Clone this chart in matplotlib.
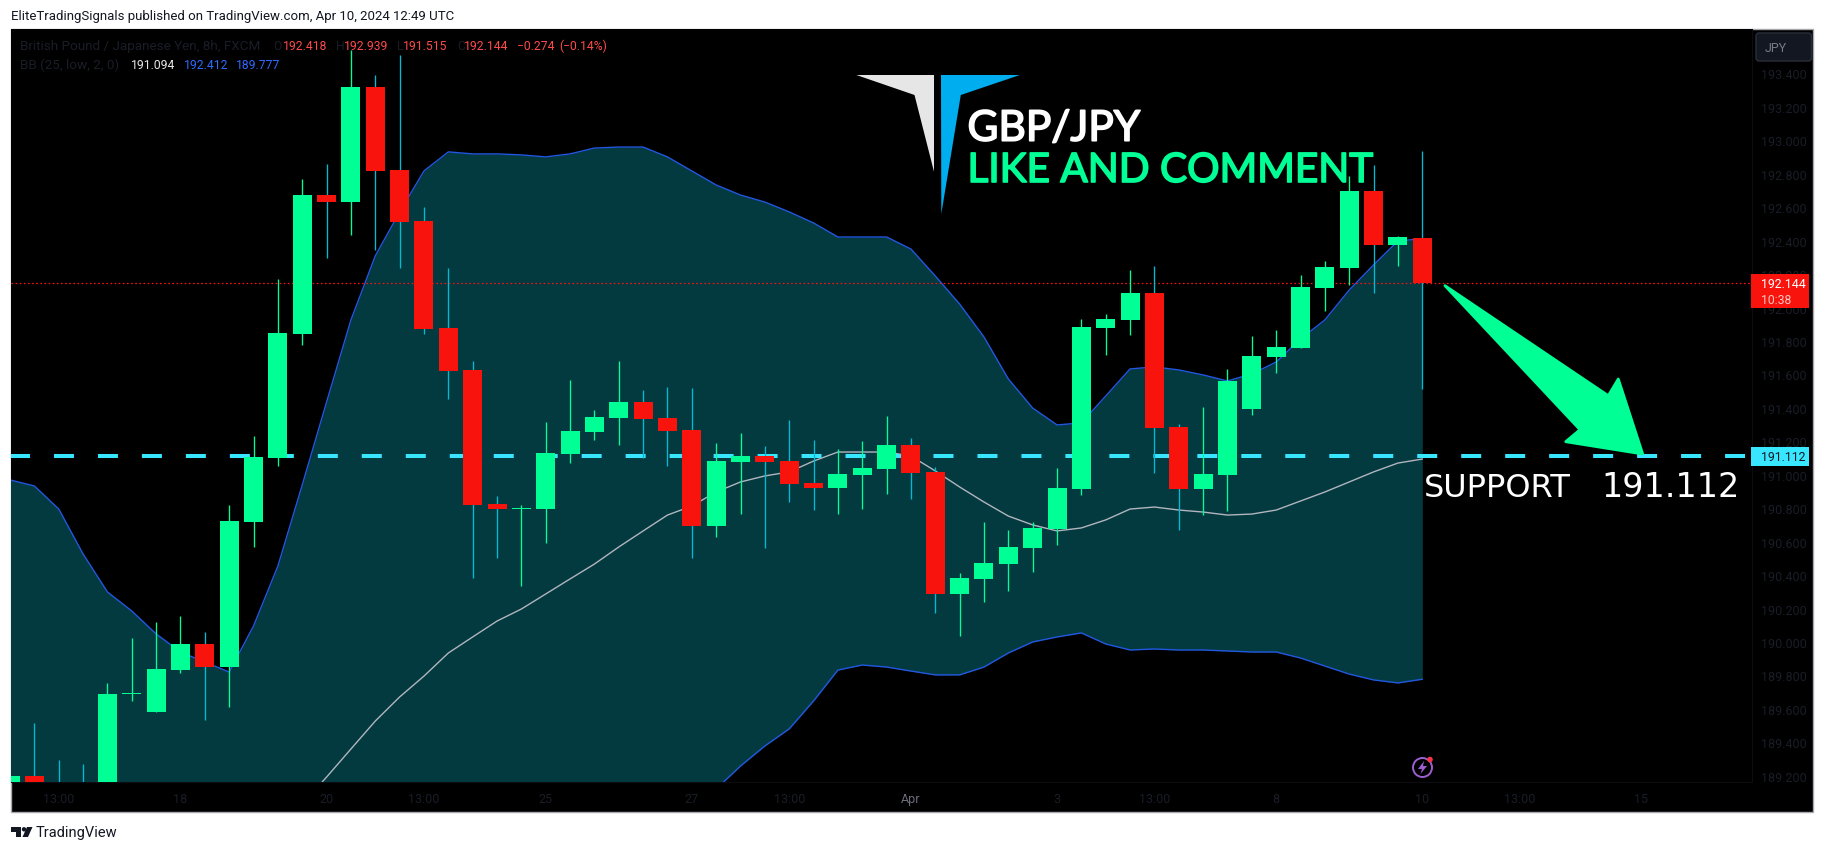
import numpy as np
import matplotlib
matplotlib.use("Agg")
import matplotlib.pyplot as plt
import matplotlib.patheffects as pe
from matplotlib.patches import Rectangle, FancyBboxPatch, Circle, Polygon

# 8h GBP/JPY candles
opens = [189.061, 189.198, 189.100, 189.100, 189.050, 189.686, 189.581, 189.832, 189.988, 189.852,
         190.718, 191.100, 191.842, 192.673, 192.631, 193.319, 192.823, 192.518, 191.878, 191.627,
         190.825, 190.797, 190.795, 191.124, 191.256, 191.340, 191.435, 191.340, 191.268, 190.694,
         191.076, 191.112, 191.082, 190.951, 190.921, 190.999, 191.035, 191.178, 191.017, 190.287,
         190.377, 190.466, 190.562, 190.676, 190.915, 191.878, 191.926, 192.087, 191.286, 190.915,
         190.999, 191.393, 191.704, 191.758, 192.117, 192.237, 192.697, 192.374, 192.418]
highs = [189.198, 189.515, 189.294, 189.270, 189.755, 190.024, 190.119, 190.155, 190.060, 190.819,
         191.232, 192.171, 192.769, 192.859, 193.541, 193.391, 193.511, 192.602, 192.237, 191.681,
         190.873, 190.819, 191.316, 191.567, 191.387, 191.681, 191.507, 191.525, 191.519, 191.190,
         191.250, 191.172, 191.328, 191.208, 191.154, 191.202, 191.352, 191.220, 191.047, 190.413,
         190.718, 190.670, 190.718, 191.041, 191.932, 191.962, 192.225, 192.249, 191.304, 191.405,
         191.633, 191.830, 191.866, 192.195, 192.279, 192.787, 192.853, 192.428, 192.939]
lows = [189.061, 189.061, 189.020, 189.000, 189.020, 189.647, 189.581, 189.814, 189.535, 189.613,
        190.568, 191.054, 191.778, 192.297, 192.434, 192.344, 192.237, 191.842, 191.453, 190.383,
        190.502, 190.335, 190.592, 191.070, 191.208, 191.178, 191.100, 191.053, 190.502, 190.628,
        190.765, 190.562, 190.837, 190.789, 190.765, 190.795, 190.885, 190.855, 190.173, 190.036,
        190.239, 190.305, 190.419, 190.580, 190.879, 191.716, 191.836, 191.011, 190.670, 190.759,
        190.783, 191.358, 191.609, 191.758, 191.980, 192.135, 192.087, 192.249, 191.515]
closes = [189.198, 189.061, 189.050, 189.050, 189.689, 189.693, 189.838, 189.988, 189.852, 190.724,
          191.106, 191.848, 192.673, 192.631, 193.319, 192.817, 192.512, 191.872, 191.621, 190.819,
          190.795, 190.801, 191.130, 191.262, 191.346, 191.435, 191.334, 191.262, 190.694, 191.082,
          191.112, 191.076, 190.945, 190.921, 191.005, 191.041, 191.178, 191.011, 190.287, 190.383,
          190.472, 190.568, 190.682, 190.921, 191.884, 191.932, 192.087, 191.280, 190.915, 191.005,
          191.563, 191.710, 191.764, 192.123, 192.243, 192.697, 192.374, 192.422, 192.144]

# Bollinger bands, the lower/basis ones run off the pane on the left
bb_upper = [190.969, 190.933, 190.795, 190.526, 190.299, 190.185, 190.048, 189.940, 189.880, 189.820,
            190.096, 190.454, 190.939, 191.435, 191.926, 192.309, 192.572, 192.817, 192.931, 192.919,
            192.919, 192.913, 192.901, 192.919, 192.954, 192.960, 192.960, 192.901, 192.817, 192.733,
            192.673, 192.631, 192.572, 192.506, 192.422, 192.422, 192.422, 192.350, 192.189, 192.021,
            191.824, 191.573, 191.399, 191.298, 191.310, 191.471, 191.633, 191.645, 191.627, 191.597,
            191.561, 191.603, 191.674, 191.812, 191.926, 192.105, 192.255, 192.398, 192.412]
bb_basis = [np.nan] * 12 + [
            189.031, 189.192, 189.360, 189.527, 189.671, 189.796, 189.934, 190.030,
            190.125, 190.197, 190.287, 190.377, 190.466, 190.568, 190.664, 190.759, 190.813, 190.897,
            190.957, 190.993, 191.017, 191.082, 191.136, 191.136, 191.136, 191.112, 191.023, 190.927,
            190.837, 190.753, 190.700, 190.664, 190.682, 190.730, 190.795, 190.807, 190.789, 190.777,
            190.759, 190.765, 190.789, 190.843, 190.897, 190.957, 191.017, 191.070, 191.094]
bb_lower = [188.900] * 28 + [
            188.971, 189.121,
            189.258, 189.378, 189.480, 189.647, 189.832, 189.862, 189.850, 189.826, 189.803, 189.803,
            189.850, 189.934, 190.000, 190.030, 190.054, 189.988, 189.952, 189.958, 189.952, 189.952,
            189.946, 189.940, 189.940, 189.904, 189.856, 189.808, 189.773, 189.755, 189.777]

price_ticks = [189.2, 189.4, 189.6, 189.8, 190.0, 190.2, 190.4, 190.6, 190.8, 191.0, 191.2,
               191.4, 191.6, 191.8, 192.0, 192.2, 192.4, 192.6, 192.8, 193.0, 193.2, 193.4]
time_ticks = [2, 7, 13, 17, 22, 28, 32, 37, 43, 47, 52, 58, 62, 67]
time_labels = ["13:00", "18", "20", "13:00", "25", "27", "13:00", "Apr", "3", "13:00", "8", "10", "13:00", "15"]
last_price = 192.144
support = 191.112

GREEN = "#00FF95"
RED = "#F8130D"
WICK_DOWN = "#00BCD4"
BAND = "#023A40"
BAND_LINE = "#2257E0"
FAINT = "#1A1D27"
CYAN = "#38E6FF"

W, H = 1825, 853
fig = plt.figure(figsize=(W / 100, H / 100), dpi=100, facecolor="white")


def box(left, top, right, bottom):
    return [left / W, 1 - bottom / H, (right - left) / W, (bottom - top) / H]


# black chart frame behind everything
fig.add_artist(Rectangle((11 / W, 1 - 813 / H), 1802 / W, 783 / H, transform=fig.transFigure,
                         facecolor="black", edgecolor="#a8a8ae", linewidth=1, zorder=-5))

ax = fig.add_axes(box(11, 30, 1751.7, 783), facecolor="black")
x = np.arange(len(closes))

ax.fill_between(x, bb_lower, bb_upper, color=BAND, linewidth=0, zorder=1)
ax.plot(x, bb_upper, color=BAND_LINE, lw=1.0, zorder=2)
ax.plot(x, bb_lower, color=BAND_LINE, lw=1.0, zorder=2)
ax.plot(x, bb_basis, color="#B2B5BE", lw=1.0, zorder=2)

ax.plot([0, 72], [support, support], color=CYAN, lw=2.9, dashes=(20 / 4.03, 24 / 4.03),
        dash_capstyle="butt", zorder=3)
ax.axhline(last_price, color="#FF1010", lw=0.9, ls=(0, (1.3, 2)), zorder=3)

up = np.array(closes) >= np.array(opens)
ax.vlines(x, lows, highs, colors=[GREEN if u else WICK_DOWN for u in up], lw=0.95, zorder=4)
ax.bar(x, np.array(closes) - np.array(opens), bottom=opens, width=0.78,
       color=[GREEN if u else RED for u in up], linewidth=0, zorder=5)

ax.set_xlim(0.039, 71.53)
ax.set_ylim(189.1625, 193.666)
ax.yaxis.tick_right()
ax.set_yticks(price_ticks)
ax.set_yticklabels(["%.3f" % p for p in price_ticks], fontsize=9, color=FAINT, family="Roboto")
ax.set_xticks(time_ticks)
ax.set_xticklabels(time_labels, fontsize=9, color=FAINT, family="Roboto")
ax.tick_params(length=0, axis="y", pad=6.5)
ax.tick_params(length=0, axis="x", pad=7)
ax.get_xticklabels()[7].set_color("#6A6D78")
for s in ax.spines.values():
    s.set_visible(False)
ax.spines["right"].set_visible(True)
ax.spines["right"].set_color("#0C0D11")
ax.spines["bottom"].set_visible(True)
ax.spines["bottom"].set_color("#0C0D11")

# everything else sits on a pixel overlay
ov = fig.add_axes([0, 0, 1, 1], zorder=10)
ov.set_xlim(0, W)
ov.set_ylim(H, 0)
ov.axis("off")
ov.patch.set_alpha(0)

ov.text(11, 16.5, "EliteTradingSignals published on TradingView.com, Apr 10, 2024 12:49 UTC",
        fontsize=9.5, color="#131722", family="Roboto", va="center")


def legend(px, py, s, color, size=8.7):
    ov.text(px, py, s, fontsize=size, color=color, family="Roboto", va="center")


legend(20.3, 46.7, "British Pound / Japanese Yen, 8h, FXCM", FAINT, 9.7)
for px, s in [(272.8, "O"), (336, "H"), (396.8, "L"), (457, "C")]:
    legend(px, 46.7, s, FAINT)
for px, s in [(282.8, "192.418"), (344, "192.939"), (403.4, "191.515"), (463.5, "192.144"),
              (517, "\u22120.274"), (559.7, "(\u22120.14%)")]:
    legend(px, 46.7, s, "#FF4A4A")
legend(20.3, 65.7, "BB (25, low, 2, 0)", FAINT, 9.7)
legend(130.6, 65.7, "191.094", "#E8E8E8")
legend(183.7, 65.7, "192.412", "#2F6BFF")
legend(236, 65.7, "189.777", "#2F6BFF")

# logo
ov.add_patch(Polygon([(856.4, 76), (934, 76), (934, 172.7), (914.5, 96)], closed=True,
                     facecolor="#E6E6E6", edgecolor="none"))
ov.add_patch(Polygon([(941, 76), (1019.8, 76), (960.8, 96), (941.3, 215)], closed=True,
                     facecolor="#00ADEE", edgecolor="none"))
ov.text(967.5, 141.7, "GBP/JPY", fontsize=30.5, color="white", family="Lato", va="baseline",
        path_effects=[pe.withStroke(linewidth=1.2, foreground="white")])
ov.text(967.5, 183, "LIKE AND COMMENT", fontsize=29.2, color=GREEN, family="Lato", va="baseline",
        path_effects=[pe.withStroke(linewidth=1.2, foreground=GREEN)])

# drawn arrow to the support level
arrow_x = [1445, 1608.3, 1618.3, 1642.7, 1565.7, 1580]
arrow_y = [286.7, 396.7, 380, 455, 442.7, 430.7]
ov.add_patch(Polygon(list(zip(arrow_x, arrow_y)), closed=True, facecolor=GREEN, edgecolor=GREEN,
                     linewidth=2, joinstyle="round"))
ov.text(1424, 497, "SUPPORT", fontsize=23, color="white", family="DejaVu Sans", va="baseline")
ov.text(1601, 497, "191.112", fontsize=24, color="white", family="DejaVu Sans", va="baseline")

# price axis tags
ov.add_patch(FancyBboxPatch((1756, 34), 55.5, 28, boxstyle="round,pad=0,rounding_size=3",
                            facecolor="#131722", edgecolor="#2A2E39", linewidth=1))
ov.text(1765, 48, "JPY", fontsize=9, color="#787B86", family="Roboto", va="center")
ov.add_patch(Rectangle((1751, 275), 58.3, 34, facecolor=RED, edgecolor="none"))
ov.text(1760.7, 284.5, "192.144", fontsize=8.8, color="white", family="Roboto", va="center")
ov.text(1760.7, 300, "10:38", fontsize=8.8, color="#FFC4C0", family="Roboto", va="center")
ov.add_patch(Rectangle((1751, 448), 58.3, 18.7, facecolor=CYAN, edgecolor="none"))
ov.text(1760.7, 457.5, "191.112", fontsize=8.8, color="#131722", family="Roboto", va="center")

# flash icon in the pane corner
ov.add_patch(Circle((1422.5, 768.5), 9.5, facecolor="none", edgecolor="#9C5FD0", linewidth=1.4))
ov.add_patch(Polygon([(1424, 762), (1418, 770), (1422, 770), (1420.5, 775), (1427, 767), (1423, 767)],
                     closed=True, facecolor="#9C5FD0", edgecolor="none"))
ov.add_patch(Circle((1430, 760.5), 2.8, facecolor="#F23645", edgecolor="none"))

# TradingView footer
ov.add_patch(Polygon([(11, 828), (21, 828), (21, 838), (16, 838), (16, 832.5), (11, 832.5)],
                     closed=True, facecolor="#131722", edgecolor="none"))
ov.add_patch(Circle((24, 830.3), 2.2, facecolor="#131722", edgecolor="none"))
ov.add_patch(Polygon([(27, 828), (32.5, 828), (28, 838), (22.5, 838)], closed=True,
                     facecolor="#131722", edgecolor="none"))
ov.text(36, 833.5, "TradingView", fontsize=10.5, color="#131722", family="Roboto", va="center")

fig.savefig("out.png", dpi=100, facecolor="white")
